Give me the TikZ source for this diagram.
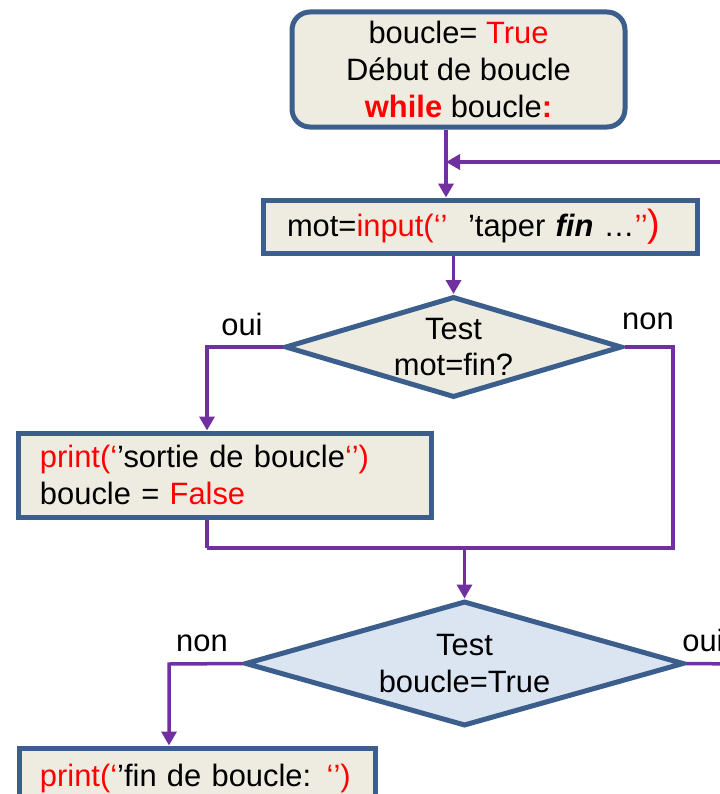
\documentclass[tikz,border=0pt]{standalone}
\usepackage{fontspec}
\setmainfont{Liberation Sans}
\usetikzlibrary{shapes.geometric,arrows.meta}
\definecolor{bordbleu}{HTML}{3B5E8C}
\definecolor{violet}{HTML}{7030A0}
\definecolor{fondbeige}{HTML}{EEECE1}
\definecolor{fondbleu}{HTML}{DBE5F1}
\newcommand{\rouge}[1]{\textcolor{red}{#1}}
\tikzset{
 every node/.style={font=\fontsize{31}{37}\selectfont},
 bloc/.style={draw=bordbleu,line width=5bp,fill=fondbeige,inner ysep=0pt},
 decision/.style={diamond,draw=bordbleu,line width=5bp,fill=fondbeige,inner sep=0pt,align=center},
 fleche/.style={draw=violet,line width=3.5bp,-{Triangle[length=14bp,width=15bp]}},
 trait/.style={draw=violet,line width=3.5bp},
 etiq/.style={anchor=base},
}
\begin{document}
\begin{tikzpicture}[x=1bp,y=-1bp]
 \useasboundingbox (0,0) rectangle (720,794);
 \clip (0,0) rectangle (720,794);
 \node[bloc,rounded corners=18bp,minimum width=333bp,minimum height=115bp,align=center] (debut) at (458.5,69.5)
  {boucle= \rouge{True}\\Début de boucle\\\rouge{\textbf{while}} boucle\rouge{\textbf{:}}};
 \node[bloc,minimum width=434bp,minimum height=53bp,text width=386bp,inner xsep=24bp,align=left] (saisie) at (480,226.5)
  {mot=\rouge{input(‘’}\ \ ’taper \textbf{\textit{fin}} …\rouge{’’{\fontsize{38}{37}\selectfont)}}};
 \node[decision,aspect=3.34,minimum width=337bp,minimum height=101bp] (test1) at (453.5,347) {Test\\mot=fin?};
 \node[bloc,minimum width=412bp,minimum height=84bp,text width=370bp,inner xsep=21bp,align=left] (sortie) at (225,475)
  {\rouge{print(‘}’sortie de boucle\rouge{‘’)}\\boucle = \rouge{False}};
 \node[decision,fill=fondbleu,aspect=3.51,minimum width=439bp,minimum height=125bp] (test2) at (464.5,663.5) {Test\\boucle=True};
 \node[bloc,minimum width=355bp,minimum height=62bp,text width=315bp,inner xsep=20bp,align=left] (fin) at (197.5,779)
  {\rouge{print(‘}’fin de boucle: \rouge{‘’)}};
 \node[etiq] (oui1) at (242,335) {oui};
 \node[etiq] (non1) at (648,329) {non};
 \node[etiq] (non2) at (202,651) {non};
 \node[etiq] (oui2) at (703,651) {oui};
 \coordinate (retour) at (740,162);
 \coordinate (jonction) at (446,162);
 \coordinate (jd) at (673,548);
 \coordinate (jg) at (207,548);
 \coordinate (ng) at (169,664);
 \coordinate (suite) at (740,664);
 \draw[fleche] (debut.south -| jonction) -- (saisie.north -| jonction);
 \draw[fleche] (retour) -- (jonction);
 \draw[fleche] (saisie.south -| test1.north) -- (test1.north);
 \draw[fleche] (test1.west) -| (sortie.north -| jg);
 \draw[trait] (test1.east) -| (jd) -- (jg);
 \draw[trait] (sortie.south -| jg) -- (jg);
 \draw[fleche] (test2.north |- jd) -- (test2.north);
 \draw[fleche] (test2.west) -- (ng) -- (fin.north -| ng);
 \draw[trait] (test2.east) -- (suite);
\end{tikzpicture}
\end{document}
